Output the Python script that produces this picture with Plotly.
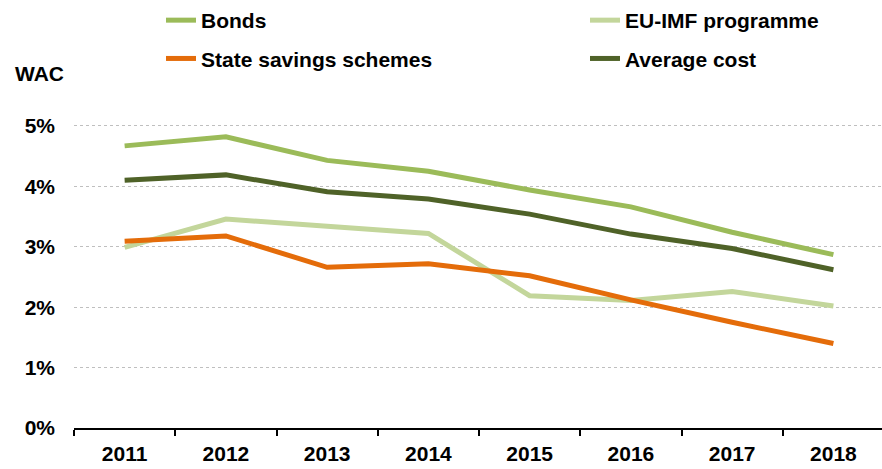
import plotly.graph_objects as go

years = ["2011", "2012", "2013", "2014", "2015", "2016", "2017", "2018"]
bonds = [4.67, 4.82, 4.43, 4.25, 3.94, 3.66, 3.24, 2.87]
eu_imf = [2.99, 3.46, 3.34, 3.22, 2.19, 2.11, 2.26, 2.02]
state = [3.09, 3.18, 2.66, 2.72, 2.52, 2.12, 1.75, 1.40]
avg_cost = [4.10, 4.19, 3.91, 3.79, 3.54, 3.21, 2.97, 2.62]
y_ticks = [0, 1, 2, 3, 4, 5]
y_tick_labels = ["0%", "1%", "2%", "3%", "4%", "5%"]

FONT = "Liberation Sans, Arial, sans-serif"
FS = 21

series = [
    ("Bonds", bonds, "#9BBB59", "legend", "g1"),
    ("State savings schemes", state, "#E46C0A", "legend", "g2"),
    ("EU-IMF programme", eu_imf, "#C3D69B", "legend2", "g3"),
    ("Average cost", avg_cost, "#4F6228", "legend2", "g4"),
]

fig = go.Figure()
draw_order = [2, 1, 0, 3]
for i in draw_order:
    name, vals, col, leg, grp = series[i]
    fig.add_trace(go.Scatter(
        x=years, y=vals, name=name, mode="lines",
        line=dict(color=col, width=5),
        legend=leg, legendgroup=grp, legendrank=i,
    ))

legend_common = dict(
    orientation="v", yanchor="top", xanchor="left",
    font=dict(family=FONT, size=FS, color="black", weight="bold"),
    bgcolor="rgba(0,0,0,0)", tracegroupgap=8, itemwidth=30,
    traceorder="grouped",
)

fig.update_layout(
    width=882, height=469,
    margin=dict(l=74, r=0, t=100, b=41),
    plot_bgcolor="white", paper_bgcolor="white",
    font=dict(family=FONT, size=FS, color="black", weight="bold"),
    showlegend=True,
    legend=dict(x=0.1077, y=1.31, **legend_common),
    legend2=dict(x=0.6324, y=1.31, **legend_common),
    xaxis=dict(
        type="category", range=[-0.5, 7.48],
        showline=True, linecolor="black", linewidth=2,
        ticks="outside", tickson="boundaries", ticklen=6, tickwidth=2, tickcolor="black",
        showgrid=False, ticklabelstandoff=6,
        tickfont=dict(family=FONT, size=FS, color="black", weight="bold"),
    ),
    yaxis=dict(
        range=[0, 5.413], tickvals=y_ticks, ticktext=y_tick_labels,
        showgrid=True, gridcolor="#BFBFBF", griddash="dot", gridwidth=1,
        zeroline=False, showline=False, ticks="", ticklabelstandoff=18,
        tickfont=dict(family=FONT, size=FS, color="black", weight="bold"),
    ),
    annotations=[dict(
        text="WAC", xref="paper", yref="paper", x=-0.0755, y=1.085,
        xanchor="left", yanchor="middle", showarrow=False,
        font=dict(family=FONT, size=FS, color="black", weight="bold"),
    )],
)

fig.write_html("out.html")
